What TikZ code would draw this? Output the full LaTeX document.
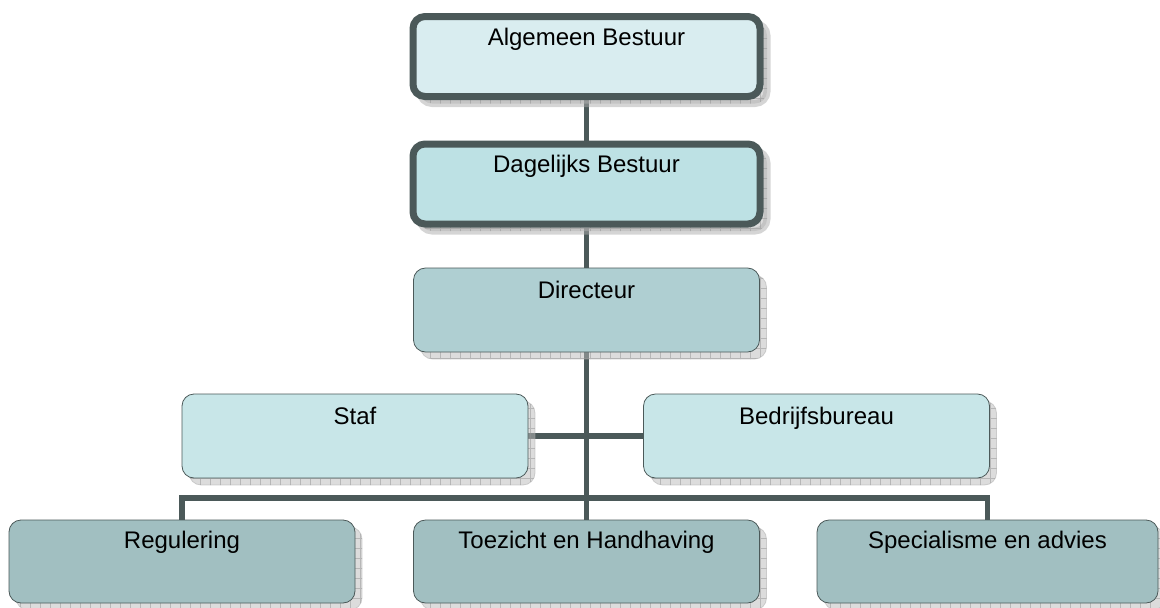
\documentclass[tikz,border=0pt]{standalone}
\usepackage{fontspec}
\setmainfont{Liberation Sans}
\usetikzlibrary{positioning,shadows,backgrounds,patterns.meta}
\usepackage{xcolor}
\definecolor{lineGray}{RGB}{75,89,89}
\definecolor{abFill}{RGB}{217,237,240}
\definecolor{dbFill}{RGB}{189,225,228}
\definecolor{dirFill}{RGB}{175,207,210}
\definecolor{stafFill}{RGB}{200,230,232}
\definecolor{deptFill}{RGB}{161,191,193}

\begin{document}
\begin{tikzpicture}[x=1pt,y=-1pt,
    unit/.style={draw=lineGray, rounded corners=12pt, inner xsep=0pt, inner ysep=0pt,
      font=\fontsize{24}{26}\selectfont,
      drop shadow={shadow xshift=7pt, shadow yshift=-7pt, fill=gray!55, draw=gray!65,
        postaction={pattern={Hatch[angle=0, distance=10pt, line width=0.7pt]}, pattern color=gray!85}}},
    board/.style={unit, line width=7pt, minimum width=347pt, text height=28.5pt, text depth=51.5pt},
    staffunit/.style={unit, line width=0.8pt, minimum width=346pt, text height=30pt, text depth=54pt},
    dept/.style={unit, line width=0.8pt, minimum width=346pt, text height=28pt, text depth=55pt},
    conn/.style={draw=lineGray, line width=5.5pt}]
    \useasboundingbox (0,0) rectangle (1160,608);

    % Bestuur
    \node[board, fill=abFill] (ab) at (586.5,56.5) {Algemeen Bestuur};
    \node[board, fill=dbFill] (db) at (586.5,184) {Dagelijks Bestuur};

    % Directie en staf
    \node[staffunit, fill=dirFill] (dir) at (586.5,310) {Directeur};
    \node[staffunit, fill=stafFill] (staf) at (355,436) {Staf};
    \node[staffunit, fill=stafFill] (bb) at (816.5,436) {Bedrijfsbureau};

    % Afdelingen
    \node[dept, fill=deptFill] (reg) at (182,561.5) {Regulering};
    \node[dept, fill=deptFill] (toe) at (586.5,561.5) {Toezicht en Handhaving};
    \node[dept, fill=deptFill, minimum width=341pt] (spec) at (987.5,561.5) {Specialisme en advies};

    % Lijnen
    \begin{scope}[on background layer]
        \coordinate (bus) at (586.5,498);
        \draw[conn] (ab) -- (db);
        \draw[conn] (db) -- (dir);
        \draw[conn] (dir.south) -- (toe.north);
        \draw[conn] (staf) -- (bb);
        \draw[conn] (reg.north) |- (bus) -| (spec.north);
    \end{scope}
\end{tikzpicture}
\end{document}
